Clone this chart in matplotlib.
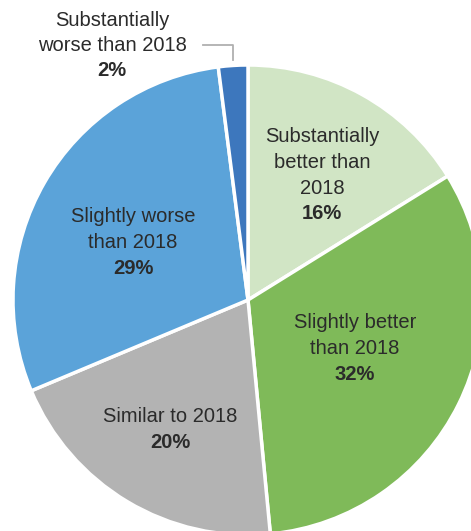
import matplotlib
matplotlib.use("Agg")
import matplotlib.pyplot as plt

categories = ["Substantially better than 2018", "Slightly better than 2018",
              "Similar to 2018", "Slightly worse than 2018",
              "Substantially worse than 2018"]
shares = [16, 32, 20, 29, 2]
colors = ["#d1e5c5", "#7fba59", "#b3b3b3", "#5ba3d9", "#3d77bd"]
label_lines = [["Substantially", "better than", "2018"],
               ["Slightly better", "than 2018"],
               ["Similar to 2018"],
               ["Slightly worse", "than 2018"],
               ["Substantially", "worse than 2018"]]

W, H = 471, 531
cx, cy, R = 248, 300, 235  # pie centre and radius in pixels

fig = plt.figure(figsize=(W / 100, H / 100), dpi=100)
ax = fig.add_axes([0, 0, 1, 1])

ax.pie(shares, colors=colors, startangle=90, counterclock=False, radius=1,
       wedgeprops=dict(edgecolor="white", linewidth=2.5))

ax.set_xlim(-cx / R, (W - cx) / R)
ax.set_ylim(-(H - cy) / R, cy / R)
ax.set_aspect("equal")
ax.axis("off")

font = "Liberation Sans"
tc = "#2b2b2b"

def px(x, y):
    return (x - cx) / R, (cy - y) / R

# label anchor (x centre, y of first line) in pixels
anchors = [(322, 137), (355, 323), (170, 417), (133, 217), (112, 20)]
step = 25.5
for lines, share, (x0, y0) in zip(label_lines, shares, anchors):
    for i, line in enumerate(lines):
        ax.text(*px(x0, y0 + i * step), line, ha="center", va="center",
                fontsize=14.5, color=tc, family=font)
    ax.text(*px(x0, y0 + len(lines) * step), f"{share}%", ha="center",
            va="center", fontsize=14.5, color=tc, family=font,
            fontweight="bold")

# leader line for the smallest slice
lx = [px(203, 45)[0], px(233, 45)[0], px(233, 60)[0]]
ly = [px(203, 45)[1], px(233, 45)[1], px(233, 60)[1]]
ax.plot(lx, ly, color="#b0b0b0", linewidth=1.3)

fig.savefig("out.png", dpi=100)
